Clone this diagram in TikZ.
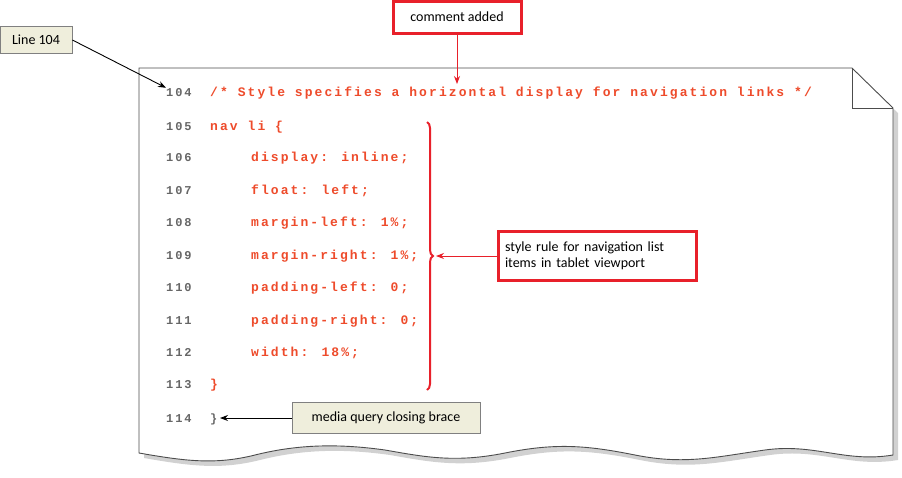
\documentclass[tikz,border=0pt]{standalone}
\usepackage{fontspec}
\setmainfont{Carlito}
\newfontfamily\codefont[LetterSpace=16]{Liberation Mono}
\usetikzlibrary{decorations.pathreplacing,arrows.meta}
\definecolor{codered}{HTML}{EE4B2B}
\definecolor{beige}{HTML}{EFEEDC}
\definecolor{boxred}{HTML}{E8202A}
\tikzset{
 x=1pt,y=-1pt,
 code/.style={anchor=base west,inner sep=0,font=\codefont\bfseries\fontsize{13}{13}\selectfont,text=codered},
 num/.style={anchor=base west,inner sep=0,font=\codefont\bfseries\fontsize{12}{12}\selectfont,text=black!60},
 callout/.style={draw=black!50,fill=beige,line width=0.8pt,font=\fontsize{14}{16}\selectfont,inner sep=0},
 redbox/.style={draw=boxred,line width=3pt,fill=white,font=\fontsize{14}{16}\selectfont,inner sep=0},
 arr/.style={-{Stealth[length=8pt,width=6pt]},line width=0.9pt}
}
\begin{document}
\begin{tikzpicture}
\useasboundingbox (0,0) rectangle (902,477);
% page with shadow
\fill[black!18] (144,74) -- (856,74) -- (898,113) -- (898,460)
 .. controls (850,468) and (820,448) .. (770,455) .. controls (720,462) and (690,470) .. (640,460)
 .. controls (590,450) and (560,448) .. (510,458) .. controls (460,468) and (430,462) .. (390,455)
 .. controls (340,448) and (300,450) .. (260,460) .. controls (220,470) and (190,466) .. (144,458) -- cycle;
\draw[black!70,line width=0.9pt,fill=white] (139,68) -- (852,68) -- (893,108) -- (893,455)
 .. controls (845,463) and (815,443) .. (765,450) .. controls (715,457) and (685,465) .. (635,455)
 .. controls (585,445) and (555,443) .. (505,453) .. controls (455,463) and (425,457) .. (385,450)
 .. controls (335,443) and (295,445) .. (255,455) .. controls (215,465) and (185,461) .. (139,453) -- cycle;
\draw[black!70,line width=0.9pt] (852,68) -- (852,108) -- (893,108);
% line numbers and code
\foreach \n/\y in {104/96,105/130,106/161,107/194,108/226,109/259,110/291,111/324,112/356,113/388,114/422}
  \node[num] (n\n) at (166,\y) {\n};
\node[code] (c104) at (210,96) {/* Style specifies a horizontal display for navigation links */};
\node[code] (c105) at (210,130) {nav li \{};
\node[code] (c106) at (251,161) {display: inline;};
\node[code] (c107) at (251,194) {float: left;};
\node[code] (c108) at (251,226) {margin-left: 1\%;};
\node[code] (c109) at (251,259) {margin-right: 1\%;};
\node[code] (c110) at (251,291) {padding-left: 0;};
\node[code] (c111) at (251,324) {padding-right: 0;};
\node[code] (c112) at (251,356) {width: 18\%;};
\node[code] (c113) at (210,388) {\}};
\node[num] (c114) at (210,422) {\}};
% brace
\draw[boxred,line width=2pt,decorate,decoration={brace,amplitude=6pt}] (427,122) -- (427,390);
\coordinate (tip) at (436,256);
% callouts
\node[redbox,minimum width=128pt,minimum height=32pt] (comment) at (457,17) {comment added};
\node[redbox,minimum width=198pt,minimum height=49pt,text width=184pt,align=left] (style) at (597,256) {style rule for navigation list\\items in tablet viewport};
\node[callout,minimum width=72pt,minimum height=27pt] (line) at (36,40) {Line 104};
\node[callout,minimum width=188pt,minimum height=31pt] (media) at (386,418) {media query closing brace};
\draw[arr,boxred,line width=0.8pt] (comment.south) -- (457,84);
\draw[arr,boxred,line width=0.8pt] (style.west) -- (tip);
\draw[arr] (line.east) -- (n104.north west);
\draw[arr] (media.west) -- (220,418);
\end{tikzpicture}
\end{document}
